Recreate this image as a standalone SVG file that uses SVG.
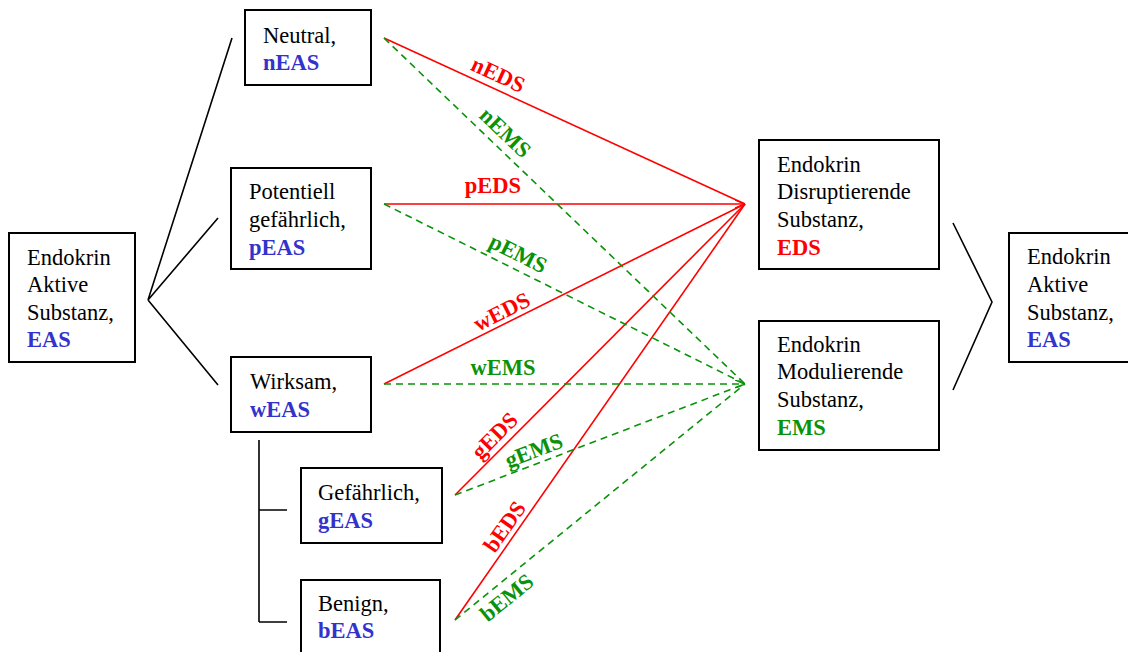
<svg xmlns="http://www.w3.org/2000/svg" width="1128" height="652" viewBox="0 0 1128 652">
<defs>
<style>
.box{fill:#fff;stroke:#000;stroke-width:2}
.t{font-family:"Liberation Serif","Times New Roman",serif;font-size:22.5px;fill:#000}
.b{font-weight:bold}
.blue{fill:#3333cc}
.red{fill:#ff0000}
.green{fill:#0a930a}
.lbl{font-family:"Liberation Serif","Times New Roman",serif;font-size:22.5px;font-weight:bold;text-anchor:middle}
.k{stroke:#000;stroke-width:1.6;fill:none}
.r{stroke:#ff0000;stroke-width:1.6;fill:none}
.g{stroke:#0a930a;stroke-width:1.6;fill:none;stroke-dasharray:7 5}
</style>
<marker id="ar" viewBox="0 0 10 8" refX="10" refY="4" markerWidth="10" markerHeight="8" markerUnits="userSpaceOnUse" orient="auto">
<path d="M0,0 L10,4 L0,8" fill="none" stroke="#ff0000" stroke-width="1.5"/>
</marker>
<marker id="ag" viewBox="0 0 10 8" refX="10" refY="4" markerWidth="10" markerHeight="8" markerUnits="userSpaceOnUse" orient="auto">
<path d="M0,0 L10,4 L0,8" fill="none" stroke="#0a930a" stroke-width="1.5"/>
</marker>
</defs>
<rect width="1128" height="652" fill="#fff"/>

<g id="connectors">
<path class="k" d="M148,300 L232,38 M148,300 L218,218 M148,300 L218,385"/>
<path class="k" d="M259,440 L259,622 M259,510 L287,510 M259,622 L287,622"/>
<path class="k" d="M953,223 L992,302 L953,390"/>
<line class="r" x1="384" y1="38" x2="745" y2="204"/>
<line class="r" x1="384" y1="204" x2="745" y2="204" marker-end="url(#ar)"/>
<line class="r" x1="384" y1="384" x2="745" y2="204"/>
<line class="r" x1="455" y1="495" x2="745" y2="204"/>
<line class="r" x1="455" y1="620" x2="745" y2="204"/>
<line class="g" x1="384" y1="38" x2="745" y2="384"/>
<line class="g" x1="384" y1="204" x2="745" y2="384"/>
<line class="g" x1="384" y1="384" x2="745" y2="384" marker-end="url(#ag)"/>
<line class="g" x1="455" y1="495" x2="745" y2="384"/>
<line class="g" x1="455" y1="620" x2="745" y2="384"/>
<g class="lbl">
<text class="red" transform="translate(498,75) rotate(24.7)" y="7">nEDS</text>
<text class="green" transform="translate(505,133) rotate(43.8)" y="7">nEMS</text>
<text class="red" x="493" y="193">pEDS</text>
<text class="green" transform="translate(518,254) rotate(26.5)" y="7">pEMS</text>
<text class="red" transform="translate(502,312) rotate(-26.5)" y="7">wEDS</text>
<text class="green" x="503" y="375">wEMS</text>
<text class="red" transform="translate(495,436) rotate(-45.1)" y="7">gEDS</text>
<text class="green" transform="translate(534,451) rotate(-20.9)" y="7">gEMS</text>
<text class="red" transform="translate(505,527) rotate(-55.1)" y="7">bEDS</text>
<text class="green" transform="translate(507,598) rotate(-39.1)" y="7">bEMS</text>
</g>
</g>

<g id="eas-left">
<rect class="box" x="9" y="233" width="126" height="129"/>
<text class="t" x="27" y="265">Endokrin</text>
<text class="t" x="27" y="292">Aktive</text>
<text class="t" x="27" y="320">Substanz,</text>
<text class="t b blue" x="27" y="347">EAS</text>
</g>

<g id="neutral">
<rect class="box" x="245" y="10" width="126" height="75"/>
<text class="t" x="263" y="43">Neutral,</text>
<text class="t b blue" x="263" y="70">nEAS</text>
</g>

<g id="potentiell">
<rect class="box" x="231" y="168" width="140" height="101"/>
<text class="t" x="249" y="199">Potentiell</text>
<text class="t" x="249" y="227">gefährlich,</text>
<text class="t b blue" x="249" y="255">pEAS</text>
</g>

<g id="wirksam">
<rect class="box" x="231" y="357" width="140" height="75"/>
<text class="t" x="250" y="389">Wirksam,</text>
<text class="t b blue" x="250" y="417">wEAS</text>
</g>

<g id="gefaehrlich">
<rect class="box" x="301" y="468" width="141" height="75"/>
<text class="t" x="318" y="500">Gefährlich,</text>
<text class="t b blue" x="318" y="528">gEAS</text>
</g>

<g id="benign">
<rect class="box" x="301" y="580" width="139" height="90"/>
<text class="t" x="318" y="611">Benign,</text>
<text class="t b blue" x="318" y="638">bEAS</text>
</g>

<g id="eds">
<rect class="box" x="759" y="140" width="180" height="129"/>
<text class="t" x="777" y="172">Endokrin</text>
<text class="t" x="777" y="199">Disruptierende</text>
<text class="t" x="777" y="227">Substanz,</text>
<text class="t b red" x="777" y="255">EDS</text>
</g>

<g id="ems">
<rect class="box" x="759" y="321" width="180" height="129"/>
<text class="t" x="777" y="352">Endokrin</text>
<text class="t" x="777" y="379">Modulierende</text>
<text class="t" x="777" y="407">Substanz,</text>
<text class="t b green" x="777" y="435">EMS</text>
</g>

<g id="eas-right">
<rect class="box" x="1009" y="233" width="130" height="129"/>
<text class="t" x="1027" y="264">Endokrin</text>
<text class="t" x="1027" y="292">Aktive</text>
<text class="t" x="1027" y="320">Substanz,</text>
<text class="t b blue" x="1027" y="347">EAS</text>
</g>
</svg>
